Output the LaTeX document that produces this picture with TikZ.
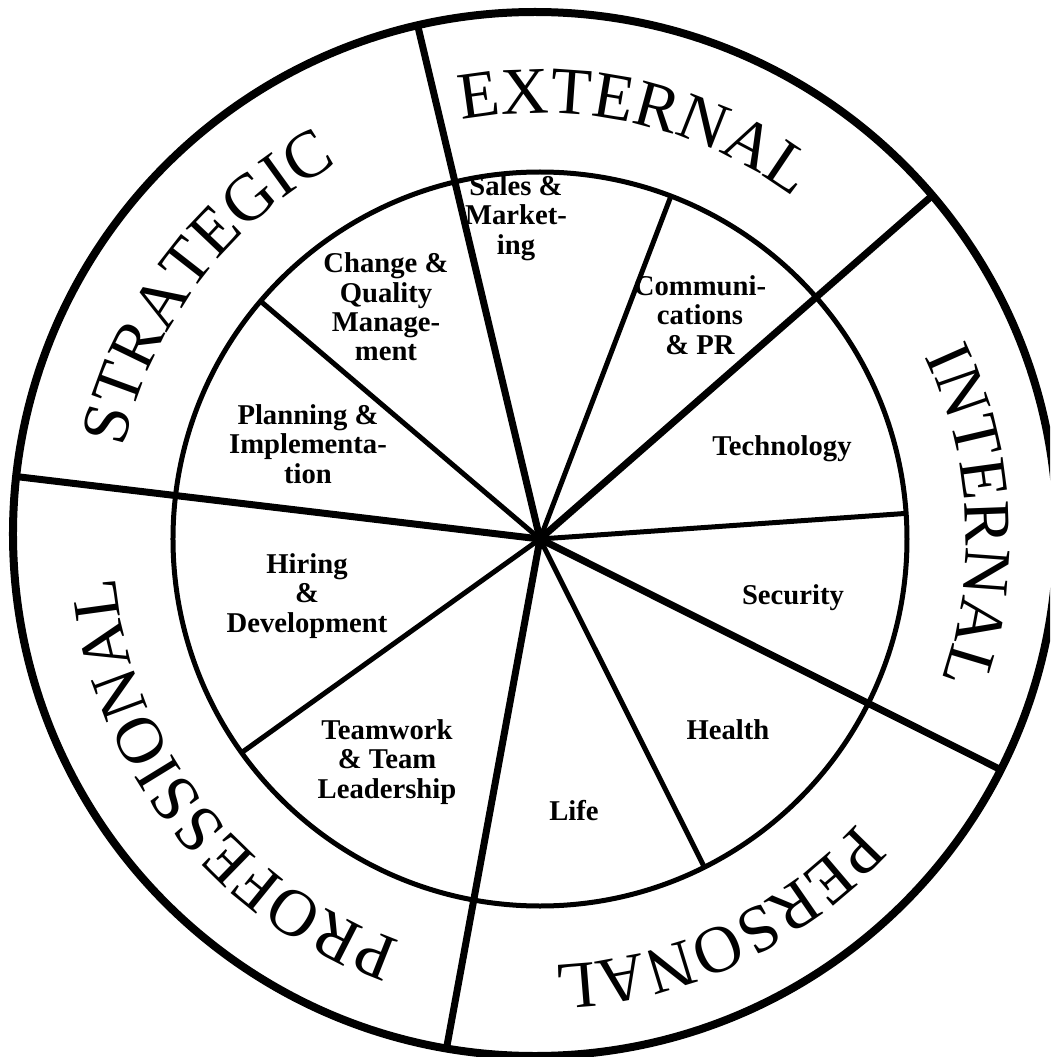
\documentclass[tikz,border=0pt]{standalone}
\usepackage{fontspec}
\setmainfont{Liberation Serif}
\usetikzlibrary{decorations.text}

\newcommand{\ringfont}{\fontsize{50}{50}\selectfont}

\begin{document}
\begin{tikzpicture}[x=0.75pt, y=0.75pt, line join=round,
    sector/.style={font=\bfseries\fontsize{21.5}{22}\selectfont, align=center, inner sep=0pt},
    ringtext/.style={decorate, decoration={text along path, text align=center, text={|\ringfont|#1}}}]
    % 枠 (1050 x 1057)
    \useasboundingbox (-540, -518) rectangle (510, 539);
    \clip (-540, -518) rectangle (510, 539);

    % 太い仕切り線 (外円まで)
    \begin{scope}
        \clip (-5, 5) circle (522);
        \foreach \a in {41.2, 103.4, 173.2, 259.6, 333.4}
            \draw[line width=5.25pt] (0,0) -- (\a:600);
    \end{scope}

    % 細い仕切り線 (内円まで)
    \foreach \a in {4, 69.1, 139.6, 215.6, 296.6}
        \draw[line width=3.75pt] (0,0) -- (\a:367);

    % 内円と外円
    \draw[line width=3.75pt] (0,0) circle (367);
    \draw[line width=6pt] (-5,5) circle (522);

    % 外周の文字
    \path[ringtext=EXTERNAL] (117:426) arc[start angle=117, end angle=37, radius=426];
    \path[ringtext=STRATEGIC] (185:426) arc[start angle=185, end angle=101, radius=426];
    \path[ringtext=INTERNAL] (43:426) arc[start angle=43, end angle=-37, radius=426];
    \path[ringtext=PERSONAL] (-25:426) arc[start angle=-25, end angle=-105, radius=426];
    \path[ringtext=PROFESSIONAL] (263:426) arc[start angle=263, end angle=173, radius=426];

    % 内側のラベル
    \node[sector] (sales) at (-24, 321) {Sales \&\\Market-\\ing};
    \node[sector] (comm) at (160, 224) {Communi-\\cations\\\& PR};
    \node[sector] (tech) at (242, 90) {Technology};
    \node[sector] (security) at (253, -59) {Security};
    \node[sector] (health) at (188, -191) {Health};
    \node[sector] (life) at (34, -272) {Life};
    \node[sector] (team) at (-153, -223) {Teamwork\\\& Team\\Leadership};
    \node[sector] (hiring) at (-233, -57) {Hiring\\\&\\Development};
    \node[sector] (planning) at (-232, 95) {Planning \&\\Implementa-\\tion};
    \node[sector] (change) at (-154, 232) {Change \&\\Quality\\Manage-\\ment};
\end{tikzpicture}
\end{document}
